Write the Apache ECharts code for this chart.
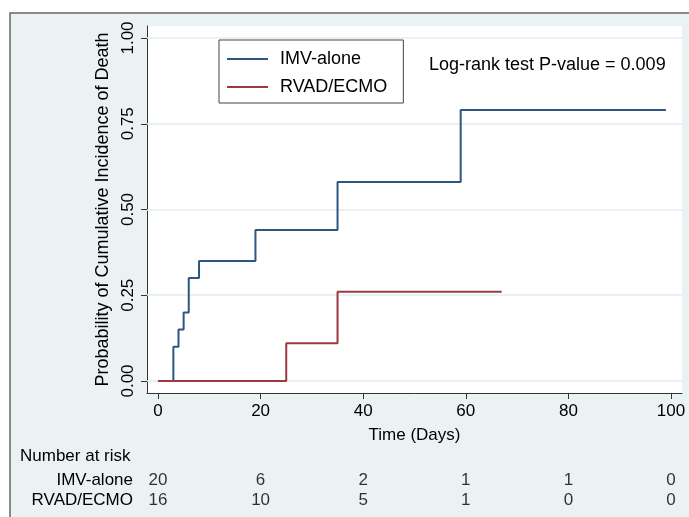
<!DOCTYPE html>
<html>
<head>
<meta charset="utf-8">
<script src="https://cdn.jsdelivr.net/npm/echarts@6/dist/echarts.min.js"></script>
<style>
html,body{margin:0;padding:0;background:#fff;}
#chart{width:689px;height:517px;}
</style>
</head>
<body>
<div id="chart"></div>
<script>
// ---- data ----
var imvTimes = [0, 3, 4, 5, 6, 8, 19, 35, 59, 99];
var imvValues = [0, 0.10, 0.15, 0.20, 0.30, 0.35, 0.44, 0.58, 0.79, 0.79];
var rvadTimes = [0, 25, 35, 67];
var rvadValues = [0, 0.11, 0.26, 0.26];
var xTicks = [0, 20, 40, 60, 80, 100];
var yTicks = [0, 0.25, 0.5, 0.75, 1];
var riskGroups = ['IMV-alone', 'RVAD/ECMO'];
var riskTimes = [0, 20, 40, 60, 80, 100];
var imvRisk = [20, 6, 2, 1, 1, 0];
var rvadRisk = [16, 10, 5, 1, 0, 0];
var seriesNames = ['IMV-alone', 'RVAD/ECMO'];
var pText = 'Log-rank test P-value = 0.009';

var FONT = "'Liberation Sans', Arial, Helvetica, sans-serif";
var BLUE = '#2c5780';
var RED = '#9a3a40';
var BG = '#eaf2f4';
var GRIDC = '#e3edf0';

function zip(a, b) { return a.map(function (v, i) { return [v, b[i]]; }); }
var riskData = [];
riskTimes.forEach(function (t, i) {
  riskData.push([t, 0, imvRisk[i]]);
  riskData.push([t, 1, rvadRisk[i]]);
});

var chart = echarts.init(document.getElementById('chart'), null, {renderer: 'canvas'});
chart.setOption({
  animation: false,
  backgroundColor: '#ffffff',
  textStyle: {fontFamily: FONT},
  graphic: [
    {type: 'rect', z: -10, shape: {x: 10, y: 13, width: 700, height: 520},
     style: {fill: BG, stroke: '#666', lineWidth: 1.5}},
    {type: 'text', left: 20, top: 448,
     style: {text: 'Number at risk', font: '17px ' + FONT, fill: '#000'}},
    {type: 'text', left: 429, top: 56, z: 20,
     style: {text: pText, font: '18px ' + FONT, fill: '#000'}}
  ],
  legend: {
    data: seriesNames,
    orient: 'vertical',
    left: 219, top: 40,
    padding: [10, 16, 7, 8],
    itemGap: 10,
    itemWidth: 41, itemHeight: 2,
    icon: 'rect',
    backgroundColor: '#fff',
    borderColor: '#444', borderWidth: 1,
    textStyle: {fontSize: 18, color: '#000', fontFamily: FONT, padding: [0, 0, 0, 7], lineHeight: 17}
  },
  grid: [
    {left: 147, right: 7, top: 26, bottom: 124, show: true, backgroundColor: '#fff', borderWidth: 0},
    {left: 147, right: 7, top: 470, height: 40, show: false}
  ],
  xAxis: [
    {type: 'value', gridIndex: 0, min: -2.14, max: 102.14,
     name: 'Time (Days)', nameLocation: 'middle', nameGap: 34,
     nameTextStyle: {fontSize: 17, color: '#000', fontFamily: FONT},
     axisLine: {show: true, onZero: false, lineStyle: {color: '#333', width: 1}},
     axisTick: {show: true, length: 6, customValues: xTicks, lineStyle: {color: '#333'}},
     axisLabel: {customValues: xTicks, fontSize: 17, color: '#000', margin: 10, fontFamily: FONT},
     splitLine: {show: false}},
    {type: 'value', gridIndex: 1, min: -2.14, max: 102.14, show: false}
  ],
  yAxis: [
    {type: 'value', gridIndex: 0, min: -0.035, max: 1.035,
     name: 'Probability of Cumulative Incidence of Death', nameLocation: 'middle', nameGap: 33,
     nameRotate: 90,
     nameTextStyle: {fontSize: 18, color: '#000', fontFamily: FONT},
     axisLine: {show: true, onZero: false, lineStyle: {color: '#333', width: 1}},
     axisTick: {show: true, length: 6, customValues: yTicks, lineStyle: {color: '#333'}},
     axisLabel: {customValues: yTicks, rotate: 90, fontSize: 17, color: '#000', margin: 10,
       fontFamily: FONT, formatter: function (v) { return v.toFixed(2); }},
     splitLine: {show: false}},
    {type: 'category', gridIndex: 1, data: riskGroups, inverse: true,
     axisLine: {show: false, onZero: false}, axisTick: {show: false},
     axisLabel: {interval: 0, fontSize: 17, color: '#000', margin: 14, fontFamily: FONT}}
  ],
  series: [
    {name: 'grid', type: 'line', data: [], z: 1, silent: true,
     markLine: {silent: true, symbol: 'none', label: {show: false},
       lineStyle: {color: GRIDC, type: 'solid', width: 1.5},
       data: yTicks.map(function (v) { return {yAxis: v}; })}},
    {name: seriesNames[0], type: 'line', step: 'end', data: zip(imvTimes, imvValues),
     symbol: 'none', zlevel: 1, z: 3, color: BLUE, lineStyle: {color: BLUE, width: 2}},
    {name: seriesNames[1], type: 'line', step: 'end', data: zip(rvadTimes, rvadValues),
     symbol: 'none', zlevel: 1, z: 4, color: RED, lineStyle: {color: RED, width: 2}},
    {name: 'risk', type: 'scatter', xAxisIndex: 1, yAxisIndex: 1, data: riskData,
     symbolSize: 2, itemStyle: {color: 'rgba(0,0,0,0)'}, silent: true,
     labelLayout: {hideOverlap: false},
     label: {show: true, position: 'inside', fontSize: 17, color: '#000', fontFamily: FONT,
       formatter: function (p) { return String(p.value[2]); }}}
  ]
});
</script>
</body>
</html>
